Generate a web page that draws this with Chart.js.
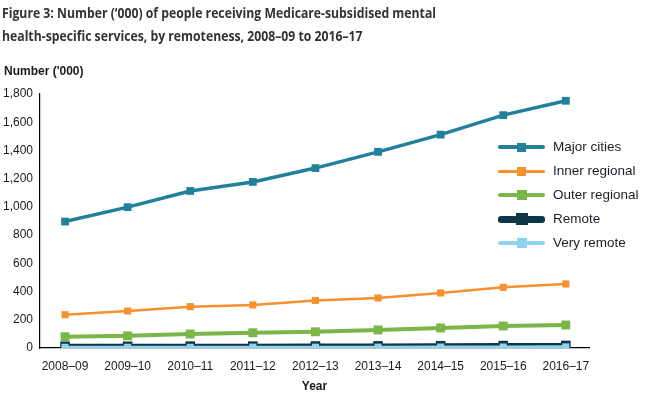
<!DOCTYPE html>
<html>
<head>
<meta charset="utf-8">
<script src="https://cdn.jsdelivr.net/npm/chart.js@4.4.1/dist/chart.umd.min.js"></script>
<style>
  html, body { margin: 0; padding: 0; background: #fff; }
  #wrap { position: relative; width: 650px; height: 402px; overflow: hidden; }
  #c { position: absolute; left: 0; top: 0; }
  #title { position: absolute; left: 2px; top: 1px; font-family: "Open Sans", sans-serif; font-weight: 700;
           font-size: 15px; line-height: 23px; color: #333; white-space: nowrap;
           transform: scaleX(0.815); transform-origin: 0 0; }
  #ytitle { position: absolute; left: 4px; top: 64px; font-family: "Liberation Sans", Arial, sans-serif;
            font-weight: bold; font-size: 12px; color: #1a1a1a; white-space: nowrap; }
  .lg { position: absolute; left: 498px; height: 20px; width: 150px; }
  .lg .ln { position: absolute; left: 0; width: 47px; border-radius: 3px; }
  .lg .mk { position: absolute; }
  .lg .tx { position: absolute; left: 55px; top: 1px; font-family: "Liberation Sans", Arial, sans-serif;
            font-size: 13.5px; color: #1c1c30; white-space: nowrap; line-height: 18px; }
</style>
</head>
<body>
<div id="wrap">
  <canvas id="c" width="650" height="402"></canvas>
  <div id="title">Figure 3: Number (‘000) of people receiving Medicare-subsidised mental<br>health-specific services, by remoteness, 2008–09 to 2016–17</div>
  <div id="ytitle">Number ('000)</div>
  <div id="legend"></div>
</div>
<script>
const categories = ["2008–09","2009–10","2010–11","2011–12","2012–13","2013–14","2014–15","2015–16","2016–17"];
const majorCities   = [896, 998, 1113, 1177, 1275, 1390, 1512, 1650, 1752];
const innerRegional = [236, 262, 293, 305, 337, 355, 390, 430, 454];
const outerRegional = [80, 86, 99, 108, 115, 128, 142, 156, 163];
const remote        = [12, 12, 13, 13, 14, 15, 16, 17, 18];
const veryRemote    = [5, 5, 5, 6, 6, 6, 7, 7, 8];
const seriesNames = ["Major cities","Inner regional","Outer regional","Remote","Very remote"];
const yTicks = [0,200,400,600,800,1000,1200,1400,1600,1800];

const styles = [
  {color:"#22809a", width:3.5, r:5.5, lgLine:4.5, lgMk:9},
  {color:"#f7902d", width:2.5, r:5,   lgLine:3,   lgMk:9},
  {color:"#7ab648", width:4,   r:6.3, lgLine:4.5, lgMk:10},
  {color:"#0d3647", width:5,   r:6.8, lgLine:7,   lgMk:12},
  {color:"#8ed4f1", width:3,   r:5,   lgLine:3.5, lgMk:10}
];
const seriesData = [majorCities, innerRegional, outerRegional, remote, veryRemote];
const orders = [4,3,2,1,0];

const datasets = seriesData.map((vals, k) => ({
  label: seriesNames[k],
  data: vals.map((v, i) => ({x: i, y: v})),
  borderColor: styles[k].color,
  backgroundColor: styles[k].color,
  borderWidth: styles[k].width,
  pointStyle: 'rect',
  pointRadius: styles[k].r,
  pointBorderWidth: 0,
  pointBackgroundColor: styles[k].color,
  order: orders[k],
  tension: 0
}));

new Chart(document.getElementById('c'), {
  type: 'line',
  data: { datasets },
  options: {
    responsive: false,
    devicePixelRatio: 1,
    animation: false,
    layout: { padding: { top: 94, right: 61, left: 0, bottom: 0 } },
    plugins: { legend: { display: false }, tooltip: { enabled: false } },
    scales: {
      x: {
        type: 'linear',
        min: -0.4, max: 8.37,
        afterBuildTicks: (s) => { s.ticks = categories.map((c, i) => ({value: i})); },
        afterFit: (s) => { s.height = 54; },
        grid: { display: false, drawTicks: false },
        border: { display: true, color: '#000', width: 1.2 },
        ticks: {
          callback: (v) => categories[v],
          autoSkip: false, maxRotation: 0, padding: 11,
          color: '#1a1a1a',
          font: { family: 'Liberation Sans', size: 12 }
        },
        title: {
          display: true, text: 'Year', color: '#1a1a1a',
          font: { family: 'Liberation Sans', size: 12, weight: 'bold' },
          padding: { top: 0, bottom: 8 }
        }
      },
      y: {
        min: 0, max: 1800,
        afterBuildTicks: (s) => { s.ticks = yTicks.map(v => ({value: v})); },
        afterFit: (s) => { s.width = 40; },
        grid: { display: false, drawTicks: false },
        border: { display: true, color: '#000', width: 1.2 },
        ticks: {
          callback: (v) => v.toLocaleString('en-US'),
          padding: 7, color: '#1a1a1a',
          font: { family: 'Liberation Sans', size: 12 }
        }
      }
    }
  }
});

// HTML legend
const lg = document.getElementById('legend');
const rowCenters = [147, 171, 195, 219, 243];
seriesNames.forEach((name, k) => {
  const st = styles[k];
  const row = document.createElement('div');
  row.className = 'lg';
  row.style.top = (rowCenters[k] - 10) + 'px';
  const ln = document.createElement('div');
  ln.className = 'ln';
  ln.style.background = st.color;
  ln.style.height = st.lgLine + 'px';
  ln.style.top = (10 - st.lgLine / 2) + 'px';
  const mk = document.createElement('div');
  mk.className = 'mk';
  mk.style.background = st.color;
  mk.style.width = st.lgMk + 'px';
  mk.style.height = st.lgMk + 'px';
  mk.style.left = (23.5 - st.lgMk / 2) + 'px';
  mk.style.top = (10 - st.lgMk / 2) + 'px';
  const tx = document.createElement('div');
  tx.className = 'tx';
  tx.textContent = name;
  row.appendChild(ln); row.appendChild(mk); row.appendChild(tx);
  lg.appendChild(row);
});
</script>
</body>
</html>
